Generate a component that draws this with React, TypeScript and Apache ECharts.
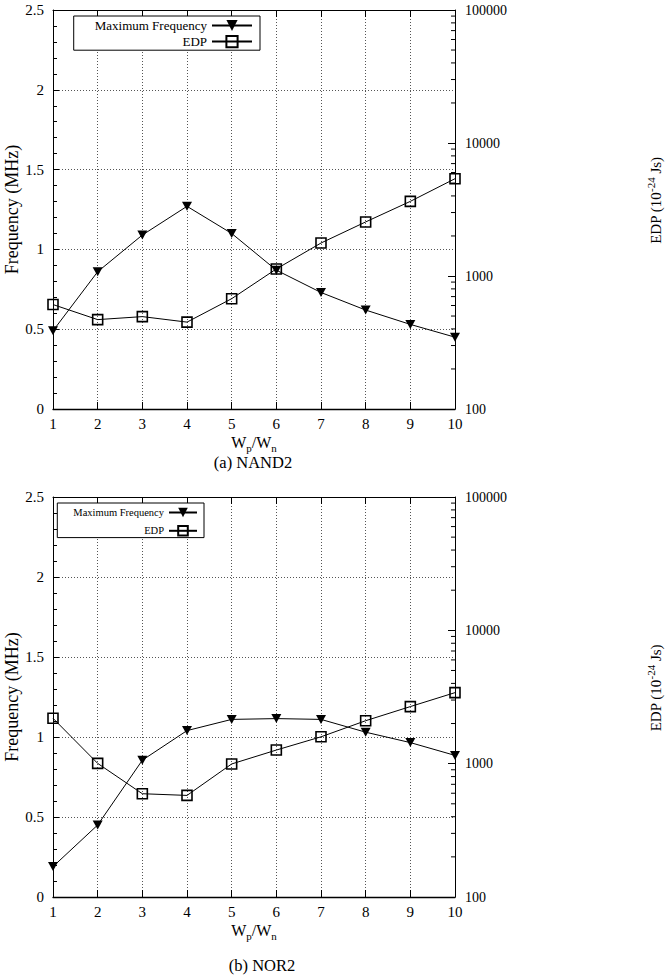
import React, { useEffect, useRef } from 'react';
import * as echarts from 'echarts';

const FONT = 'Liberation Serif, Times New Roman, serif';

// Data
const ratios = [1, 2, 3, 4, 5, 6, 7, 8, 9, 10];
const nandFreq = [0.49, 0.86, 1.09, 1.27, 1.1, 0.87, 0.73, 0.62, 0.53, 0.45];
const nandEdp = [610, 470, 495, 450, 675, 1130, 1770, 2550, 3640, 5390];
const norFreq = [0.19, 0.45, 0.855, 1.04, 1.11, 1.115, 1.11, 1.03, 0.965, 0.885];
const norEdp = [2190, 1005, 595, 578, 995, 1265, 1590, 2100, 2680, 3410];
const seriesNames = ['Maximum Frequency', 'EDP'];
const captions = ['(a) NAND2', '(b) NOR2'];
const logMinorTicks = [
  200, 300, 400, 500, 600, 700, 800, 900,
  2000, 3000, 4000, 5000, 6000, 7000, 8000, 9000,
  20000, 30000, 40000, 50000, 60000, 70000, 80000, 90000,
];

const GRIDS = [
  { left: 53, top: 10, width: 402, height: 399 },
  { left: 53, top: 497, width: 402, height: 400 },
];

function buildOption() {
  const xAxis: any[] = [];
  const yAxis: any[] = [];
  const series: any[] = [];
  const grid: any[] = GRIDS.map((g) => ({ ...g, containLabel: false, outerBoundsMode: 'none' }));

  const gridLine = { show: true, lineStyle: { color: '#555', type: [1, 2], width: 1 } };

  GRIDS.forEach((g, gi) => {
    xAxis.push({
      type: 'value', gridIndex: gi, position: 'bottom', min: 1, max: 10, interval: 1,
      axisLine: { show: true, onZero: false, lineStyle: { color: '#000', width: 1.3 } },
      axisTick: { show: true, inside: true, length: 7, lineStyle: { color: '#000' } },
      axisLabel: { color: '#000', fontFamily: FONT, fontSize: 15, margin: 7 },
      splitLine: gridLine,
      name: '{b|W}{s|p}{b|/W}{s|n}',
      nameLocation: 'middle',
      nameGap: 25,
      nameMoveOverlap: false,
      nameTextStyle: {
        rich: {
          b: { fontFamily: FONT, fontSize: 16, color: '#000', lineHeight: 13, verticalAlign: 'top' },
          s: { fontFamily: FONT, fontSize: 11, color: '#000', lineHeight: 9, padding: [8, 0, 0, 0], verticalAlign: 'top' },
        },
      },
    });
    xAxis.push({
      type: 'value', gridIndex: gi, position: 'top', min: 1, max: 10, interval: 1,
      axisLine: { show: true, onZero: false, lineStyle: { color: '#000', width: 1 } },
      axisTick: { show: true, inside: true, length: 7, lineStyle: { color: '#000' } },
      axisLabel: { show: false },
      splitLine: { show: false },
    });
    yAxis.push({
      type: 'value', gridIndex: gi, position: 'left', min: 0, max: 2.5, interval: 0.5,
      axisLine: { show: true, onZero: false, lineStyle: { color: '#000', width: 1 } },
      axisTick: { show: true, inside: true, length: 6, lineStyle: { color: '#000' } },
      minorTick: { show: true, splitNumber: 5, length: 4, lineStyle: { color: '#000' } },
      axisLabel: { color: '#000', fontFamily: FONT, fontSize: 15, margin: 9 },
      splitLine: gridLine,
      name: 'Frequency (MHz)',
      nameLocation: 'middle',
      nameGap: 32,
      nameMoveOverlap: false,
      nameTextStyle: { fontFamily: FONT, fontSize: 18, color: '#000' },
    });
    yAxis.push({
      type: 'log', logBase: 10, gridIndex: gi, position: 'right', min: 100, max: 100000,
      axisLine: { show: true, onZero: false, lineStyle: { color: '#000', width: 1 } },
      axisTick: { show: true, inside: true, length: 7, lineStyle: { color: '#000' } },
      axisLabel: {
        color: '#000', fontFamily: FONT, fontSize: 14, margin: 10,
        formatter: (v: number) => String(Math.round(v)),
      },
      splitLine: { show: false },
      name: '{b|EDP (10}{p|-24}{b| Js)}',
      nameLocation: 'middle',
      nameGap: 193,
      nameMoveOverlap: false,
      nameTextStyle: {
        padding: [0, 0, 0, 18],
        rich: {
          b: { fontFamily: FONT, fontSize: 15, color: '#000', lineHeight: 15, verticalAlign: 'bottom' },
          p: { fontFamily: FONT, fontSize: 11, color: '#000', lineHeight: 11, padding: [0, 0, 7, 0], verticalAlign: 'bottom' },
        },
      },
    });
  });

  const datasets = [
    { freq: nandFreq, edp: nandEdp },
    { freq: norFreq, edp: norEdp },
  ];

  datasets.forEach((d, gi) => {
    series.push({
      name: seriesNames[0],
      type: 'line',
      xAxisIndex: gi * 2,
      yAxisIndex: gi * 2,
      data: ratios.map((x, i) => [x, d.freq[i]]),
      symbol: 'triangle',
      symbolRotate: 180,
      symbolSize: [10, 9],
      lineStyle: { color: '#000', width: 1 },
      itemStyle: { color: '#000' },
      z: 3,
    });
    series.push({
      name: seriesNames[1],
      type: 'line',
      xAxisIndex: gi * 2,
      yAxisIndex: gi * 2 + 1,
      data: ratios.map((x, i) => [x, d.edp[i]]),
      symbol: 'rect',
      symbolSize: 10,
      lineStyle: { color: '#000', width: 1 },
      itemStyle: { color: 'rgba(0,0,0,0)', borderColor: '#000', borderWidth: 1.6 },
      z: 4,
    });
    series.push({
      type: 'custom',
      name: 'minorLog' + gi,
      xAxisIndex: gi * 2,
      yAxisIndex: gi * 2 + 1,
      silent: true,
      data: logMinorTicks.map((v) => [ratios[ratios.length - 1], v]),
      renderItem: (params: any, api: any) => {
        const p = api.coord([api.value(0), api.value(1)]);
        return {
          type: 'line',
          shape: { x1: p[0] - 4, y1: p[1], x2: p[0], y2: p[1] },
          style: { stroke: '#000', lineWidth: 1 },
        };
      },
      z: 5,
    });
  });

  const legend = [
    {
      data: seriesNames,
      orient: 'vertical',
      right: 665 - 260,
      top: 16,
      align: 'right',
      itemWidth: 40,
      itemHeight: 14,
      itemGap: 3,
      padding: [3, 7, 2, 21],
      borderColor: '#000',
      borderWidth: 1,
      borderRadius: 0,
      backgroundColor: '#fff',
      selectedMode: false,
      textStyle: { fontFamily: FONT, fontSize: 13, color: '#000', width: 112, align: 'right' },
    },
    {
      data: seriesNames,
      orient: 'vertical',
      right: 665 - 204,
      top: 503,
      align: 'right',
      itemWidth: 28,
      itemHeight: 12,
      itemGap: 7,
      padding: [4, 6, 1, 16],
      borderColor: '#000',
      borderWidth: 1,
      borderRadius: 0,
      backgroundColor: '#fff',
      selectedMode: false,
      textStyle: { fontFamily: FONT, fontSize: 10.5, color: '#000', width: 90, align: 'right' },
    },
  ];

  const graphic = [
    {
      type: 'text', x: 253, y: 462,
      style: { text: captions[0], fontFamily: FONT, fontSize: 16.5, fill: '#000', align: 'center', verticalAlign: 'middle' },
    },
    {
      type: 'text', x: 262, y: 965,
      style: { text: captions[1], fontFamily: FONT, fontSize: 16.5, fill: '#000', align: 'center', verticalAlign: 'middle' },
    },
  ];

  return {
    animation: false,
    backgroundColor: '#fff',
    textStyle: { fontFamily: FONT, color: '#000' },
    grid,
    xAxis,
    yAxis,
    series,
    legend,
    graphic,
  };
}

export default function App() {
  const ref = useRef<HTMLDivElement>(null);
  useEffect(() => {
    if (!ref.current) return;
    const chart = echarts.init(ref.current, undefined, { renderer: 'svg' });
    chart.setOption(buildOption() as any);
    return () => chart.dispose();
  }, []);
  return (
    <div
      ref={ref}
      style={{ position: 'absolute', left: 0, top: 0, width: 665, height: 980, background: '#fff' }}
    />
  );
}
